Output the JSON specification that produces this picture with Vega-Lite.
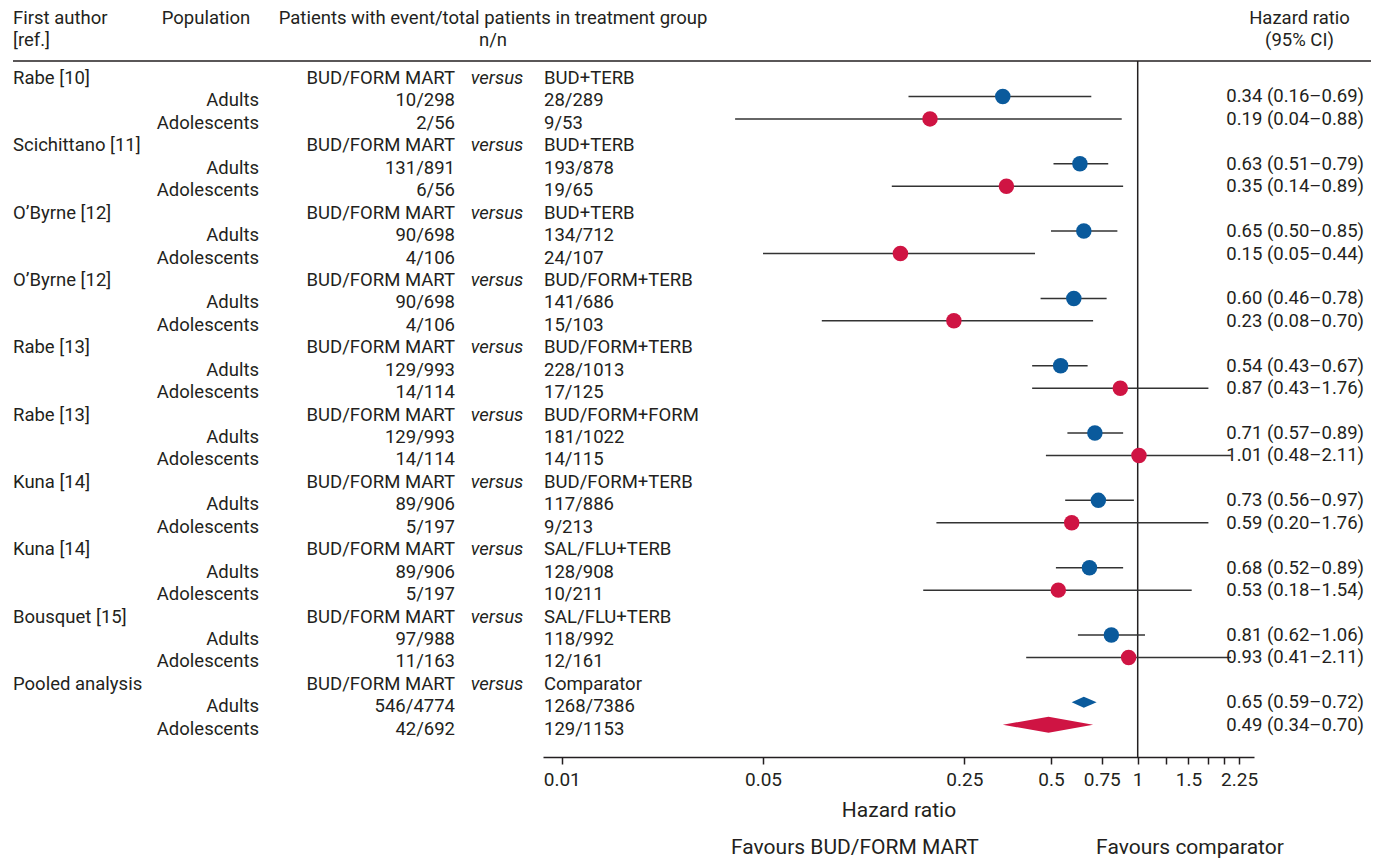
{
  "$schema": "https://vega.github.io/schema/vega-lite/v6.json",
  "padding": {"left": 12, "top": 0, "right": 0, "bottom": 0},
  "background": "white",
  "spacing": 0,
  "bounds": "flush",
  "config": {
    "view": {"stroke": null},
    "font": "Roboto",
    "text": {"font": "Roboto", "fontSize": 18.5, "color": "#231f20", "baseline": "middle"}
  },
  "datasets": {
    "rows": [
      {"row": 0, "author": "Rabe [10]", "treat": "BUD/FORM MART", "versus": "versus", "comp": "BUD+TERB"},
      {"row": 1, "population": "Adults", "treat": "10/298", "comp": "28/289", "hr": 0.34, "lo": 0.16, "hi": 0.69, "ci": "0.34 (0.16–0.69)", "pooled": false},
      {"row": 2, "population": "Adolescents", "treat": "2/56", "comp": "9/53", "hr": 0.19, "lo": 0.04, "hi": 0.88, "ci": "0.19 (0.04–0.88)", "pooled": false},
      {"row": 3, "author": "Scichittano [11]", "treat": "BUD/FORM MART", "versus": "versus", "comp": "BUD+TERB"},
      {"row": 4, "population": "Adults", "treat": "131/891", "comp": "193/878", "hr": 0.63, "lo": 0.51, "hi": 0.79, "ci": "0.63 (0.51–0.79)", "pooled": false},
      {"row": 5, "population": "Adolescents", "treat": "6/56", "comp": "19/65", "hr": 0.35, "lo": 0.14, "hi": 0.89, "ci": "0.35 (0.14–0.89)", "pooled": false},
      {"row": 6, "author": "O’Byrne [12]", "treat": "BUD/FORM MART", "versus": "versus", "comp": "BUD+TERB"},
      {"row": 7, "population": "Adults", "treat": "90/698", "comp": "134/712", "hr": 0.65, "lo": 0.50, "hi": 0.85, "ci": "0.65 (0.50–0.85)", "pooled": false},
      {"row": 8, "population": "Adolescents", "treat": "4/106", "comp": "24/107", "hr": 0.15, "lo": 0.05, "hi": 0.44, "ci": "0.15 (0.05–0.44)", "pooled": false},
      {"row": 9, "author": "O’Byrne [12]", "treat": "BUD/FORM MART", "versus": "versus", "comp": "BUD/FORM+TERB"},
      {"row": 10, "population": "Adults", "treat": "90/698", "comp": "141/686", "hr": 0.60, "lo": 0.46, "hi": 0.78, "ci": "0.60 (0.46–0.78)", "pooled": false},
      {"row": 11, "population": "Adolescents", "treat": "4/106", "comp": "15/103", "hr": 0.23, "lo": 0.08, "hi": 0.70, "ci": "0.23 (0.08–0.70)", "pooled": false},
      {"row": 12, "author": "Rabe [13]", "treat": "BUD/FORM MART", "versus": "versus", "comp": "BUD/FORM+TERB"},
      {"row": 13, "population": "Adults", "treat": "129/993", "comp": "228/1013", "hr": 0.54, "lo": 0.43, "hi": 0.67, "ci": "0.54 (0.43–0.67)", "pooled": false},
      {"row": 14, "population": "Adolescents", "treat": "14/114", "comp": "17/125", "hr": 0.87, "lo": 0.43, "hi": 1.76, "ci": "0.87 (0.43–1.76)", "pooled": false},
      {"row": 15, "author": "Rabe [13]", "treat": "BUD/FORM MART", "versus": "versus", "comp": "BUD/FORM+FORM"},
      {"row": 16, "population": "Adults", "treat": "129/993", "comp": "181/1022", "hr": 0.71, "lo": 0.57, "hi": 0.89, "ci": "0.71 (0.57–0.89)", "pooled": false},
      {"row": 17, "population": "Adolescents", "treat": "14/114", "comp": "14/115", "hr": 1.01, "lo": 0.48, "hi": 2.11, "ci": "1.01 (0.48–2.11)", "pooled": false},
      {"row": 18, "author": "Kuna [14]", "treat": "BUD/FORM MART", "versus": "versus", "comp": "BUD/FORM+TERB"},
      {"row": 19, "population": "Adults", "treat": "89/906", "comp": "117/886", "hr": 0.73, "lo": 0.56, "hi": 0.97, "ci": "0.73 (0.56–0.97)", "pooled": false},
      {"row": 20, "population": "Adolescents", "treat": "5/197", "comp": "9/213", "hr": 0.59, "lo": 0.20, "hi": 1.76, "ci": "0.59 (0.20–1.76)", "pooled": false},
      {"row": 21, "author": "Kuna [14]", "treat": "BUD/FORM MART", "versus": "versus", "comp": "SAL/FLU+TERB"},
      {"row": 22, "population": "Adults", "treat": "89/906", "comp": "128/908", "hr": 0.68, "lo": 0.52, "hi": 0.89, "ci": "0.68 (0.52–0.89)", "pooled": false},
      {"row": 23, "population": "Adolescents", "treat": "5/197", "comp": "10/211", "hr": 0.53, "lo": 0.18, "hi": 1.54, "ci": "0.53 (0.18–1.54)", "pooled": false},
      {"row": 24, "author": "Bousquet [15]", "treat": "BUD/FORM MART", "versus": "versus", "comp": "SAL/FLU+TERB"},
      {"row": 25, "population": "Adults", "treat": "97/988", "comp": "118/992", "hr": 0.81, "lo": 0.62, "hi": 1.06, "ci": "0.81 (0.62–1.06)", "pooled": false},
      {"row": 26, "population": "Adolescents", "treat": "11/163", "comp": "12/161", "hr": 0.93, "lo": 0.41, "hi": 2.11, "ci": "0.93 (0.41–2.11)", "pooled": false},
      {"row": 27, "author": "Pooled analysis", "treat": "BUD/FORM MART", "versus": "versus", "comp": "Comparator"},
      {"row": 28, "population": "Adults", "treat": "546/4774", "comp": "1268/7386", "hr": 0.65, "lo": 0.59, "hi": 0.72, "ci": "0.65 (0.59–0.72)", "pooled": true},
      {"row": 29, "population": "Adolescents", "treat": "42/692", "comp": "129/1153", "hr": 0.49, "lo": 0.34, "hi": 0.70, "ci": "0.49 (0.34–0.70)", "pooled": true}
    ],
    "headers": [
      {"col": "author", "row": -2.67, "label": "First author"},
      {"col": "author", "row": -1.69, "label": "[ref.]"},
      {"col": "population", "row": -2.67, "label": "Population"},
      {"col": "patients", "row": -2.67, "label": "Patients with event/total patients in treatment group"},
      {"col": "patients", "row": -1.69, "label": "n/n"},
      {"col": "hr", "row": -2.67, "label": "Hazard ratio"},
      {"col": "hr", "row": -1.69, "label": "(95% CI)"}
    ],
    "one": [{}],
    "favours": [
      {"label": "Favours BUD/FORM MART", "pos": 0.1043},
      {"label": "Favours comparator", "pos": 1.519}
    ]
  },
  "hconcat": [
    {
      "width": 140, "height": 757,
      "layer": [
        {"data": {"name": "rows"}, "transform": [{"filter": "datum.author != null"}],
         "mark": {"type": "text", "align": "left"},
         "encoding": {"x": {"value": 0}, "y": {"field": "row", "type": "quantitative", "scale": {"domain": [-3.476, 30.258], "reverse": true, "nice": false, "zero": false}, "axis": null}, "text": {"field": "author"}}},
        {"data": {"name": "headers"}, "transform": [{"filter": "datum.col == 'author'"}],
         "mark": {"type": "text", "align": "left"},
         "encoding": {"x": {"value": 0}, "y": {"field": "row", "type": "quantitative", "scale": {"domain": [-3.476, 30.258], "reverse": true, "nice": false, "zero": false}, "axis": null}, "text": {"field": "label"}}},
        {"data": {"name": "one"}, "mark": {"type": "rule", "color": "#231f20", "strokeWidth": 1.5},
         "encoding": {"y": {"datum": -0.76, "type": "quantitative", "scale": {"domain": [-3.476, 30.258], "reverse": true, "nice": false, "zero": false}, "axis": null}}}
      ]
    },
    {
      "width": 106, "height": 757,
      "layer": [
        {"data": {"name": "rows"}, "transform": [{"filter": "datum.population != null"}],
         "mark": {"type": "text", "align": "right"},
         "encoding": {"x": {"value": "width"}, "y": {"field": "row", "type": "quantitative", "scale": {"domain": [-3.476, 30.258], "reverse": true, "nice": false, "zero": false}, "axis": null}, "text": {"field": "population"}}},
        {"data": {"name": "headers"}, "transform": [{"filter": "datum.col == 'population'"}],
         "mark": {"type": "text", "align": "center"},
         "encoding": {"y": {"field": "row", "type": "quantitative", "scale": {"domain": [-3.476, 30.258], "reverse": true, "nice": false, "zero": false}, "axis": null}, "text": {"field": "label"}}},
        {"data": {"name": "one"}, "mark": {"type": "rule", "color": "#231f20", "strokeWidth": 1.5},
         "encoding": {"y": {"datum": -0.76, "type": "quantitative", "scale": {"domain": [-3.476, 30.258], "reverse": true, "nice": false, "zero": false}, "axis": null}}}
      ]
    },
    {
      "width": 196, "height": 757,
      "layer": [
        {"data": {"name": "rows"}, "transform": [{"filter": "datum.treat != null"}],
         "mark": {"type": "text", "align": "right"},
         "encoding": {"x": {"value": "width"}, "y": {"field": "row", "type": "quantitative", "scale": {"domain": [-3.476, 30.258], "reverse": true, "nice": false, "zero": false}, "axis": null}, "text": {"field": "treat"}}},
        {"data": {"name": "one"}, "mark": {"type": "rule", "color": "#231f20", "strokeWidth": 1.5},
         "encoding": {"y": {"datum": -0.76, "type": "quantitative", "scale": {"domain": [-3.476, 30.258], "reverse": true, "nice": false, "zero": false}, "axis": null}}}
      ]
    },
    {
      "width": 88, "height": 757,
      "layer": [
        {"data": {"name": "rows"}, "transform": [{"filter": "datum.versus != null"}],
         "mark": {"type": "text", "align": "center", "fontStyle": "italic", "dx": -2},
         "encoding": {"y": {"field": "row", "type": "quantitative", "scale": {"domain": [-3.476, 30.258], "reverse": true, "nice": false, "zero": false}, "axis": null}, "text": {"field": "versus"}}},
        {"data": {"name": "headers"}, "transform": [{"filter": "datum.col == 'patients'"}],
         "mark": {"type": "text", "align": "center", "dx": -6},
         "encoding": {"y": {"field": "row", "type": "quantitative", "scale": {"domain": [-3.476, 30.258], "reverse": true, "nice": false, "zero": false}, "axis": null}, "text": {"field": "label"}}},
        {"data": {"name": "one"}, "mark": {"type": "rule", "color": "#231f20", "strokeWidth": 1.5},
         "encoding": {"y": {"datum": -0.76, "type": "quantitative", "scale": {"domain": [-3.476, 30.258], "reverse": true, "nice": false, "zero": false}, "axis": null}}}
      ]
    },
    {
      "width": 711, "height": 757,
      "layer": [
        {"data": {"name": "one"}, "mark": {"type": "rule", "color": "#231f20", "strokeWidth": 1.5},
         "encoding": {"y": {"datum": -0.76, "type": "quantitative", "scale": {"domain": [-3.476, 30.258], "reverse": true, "nice": false, "zero": false}, "axis": null}}},
        {"data": {"name": "one"}, "mark": {"type": "rule", "color": "#231f20", "strokeWidth": 1.5},
         "encoding": {
           "x": {"datum": 1, "type": "quantitative", "scale": {"type": "log", "domain": [0.00861, 2.534], "nice": false},
             "axis": {"title": "Hazard ratio", "values": [0.01, 0.05, 0.25, 0.5, 0.75, 1, 1.25, 1.5, 1.75, 2, 2.25], "format": "~g", "labelExpr": "indexof([1.25, 1.75, 2], datum.value) >= 0 ? '' : datum.label", "labelOverlap": false, "labelFlush": false, "labelBound": false, "grid": false, "tickSize": 7, "tickWidth": 1.5, "tickColor": "#231f20", "domainColor": "#231f20", "domainWidth": 1.5, "labelFont": "Roboto", "labelFontSize": 19, "labelColor": "#231f20", "labelPadding": 6, "titleFont": "Roboto", "titleFontSize": 21, "titleFontWeight": "normal", "titleColor": "#231f20", "titlePadding": 10}},
           "y": {"datum": -0.76, "type": "quantitative", "scale": {"domain": [-3.476, 30.258], "reverse": true, "nice": false, "zero": false}, "axis": null},
           "y2": {"datum": 30.258}}},
        {"data": {"name": "rows"}, "transform": [{"filter": "datum.comp != null"}],
         "mark": {"type": "text", "align": "left", "dx": 1},
         "encoding": {"x": {"value": 0}, "y": {"field": "row", "type": "quantitative", "scale": {"domain": [-3.476, 30.258], "reverse": true, "nice": false, "zero": false}, "axis": null}, "text": {"field": "comp"}}},
        {"data": {"name": "rows"}, "transform": [{"filter": "datum.hr != null && !datum.pooled"}],
         "mark": {"type": "rule", "color": "#333333", "strokeWidth": 1.5, "yOffset": -4},
         "encoding": {
           "x": {"field": "lo", "type": "quantitative", "scale": {"type": "log", "domain": [0.00861, 2.534], "nice": false},
             "axis": {"title": "Hazard ratio", "values": [0.01, 0.05, 0.25, 0.5, 0.75, 1, 1.25, 1.5, 1.75, 2, 2.25], "format": "~g", "labelExpr": "indexof([1.25, 1.75, 2], datum.value) >= 0 ? '' : datum.label", "labelOverlap": false, "labelFlush": false, "labelBound": false, "grid": false, "tickSize": 7, "tickWidth": 1.5, "tickColor": "#231f20", "domainColor": "#231f20", "domainWidth": 1.5, "labelFont": "Roboto", "labelFontSize": 19, "labelColor": "#231f20", "labelPadding": 6, "titleFont": "Roboto", "titleFontSize": 21, "titleFontWeight": "normal", "titleColor": "#231f20", "titlePadding": 10}},
           "x2": {"field": "hi"},
           "y": {"field": "row", "type": "quantitative", "scale": {"domain": [-3.476, 30.258], "reverse": true, "nice": false, "zero": false}, "axis": null}}},
        {"data": {"name": "rows"}, "transform": [{"filter": "datum.hr != null && !datum.pooled"}],
         "mark": {"type": "circle", "size": 240, "opacity": 1, "yOffset": -4},
         "encoding": {
           "x": {"field": "hr", "type": "quantitative", "scale": {"type": "log", "domain": [0.00861, 2.534], "nice": false},
             "axis": {"title": "Hazard ratio", "values": [0.01, 0.05, 0.25, 0.5, 0.75, 1, 1.25, 1.5, 1.75, 2, 2.25], "format": "~g", "labelExpr": "indexof([1.25, 1.75, 2], datum.value) >= 0 ? '' : datum.label", "labelOverlap": false, "labelFlush": false, "labelBound": false, "grid": false, "tickSize": 7, "tickWidth": 1.5, "tickColor": "#231f20", "domainColor": "#231f20", "domainWidth": 1.5, "labelFont": "Roboto", "labelFontSize": 19, "labelColor": "#231f20", "labelPadding": 6, "titleFont": "Roboto", "titleFontSize": 21, "titleFontWeight": "normal", "titleColor": "#231f20", "titlePadding": 10}},
           "y": {"field": "row", "type": "quantitative", "scale": {"domain": [-3.476, 30.258], "reverse": true, "nice": false, "zero": false}, "axis": null},
           "color": {"field": "population", "type": "nominal", "scale": {"domain": ["Adults", "Adolescents"], "range": ["#0a5a9c", "#cf1443"]}, "legend": null}}},
        {"data": {"name": "rows"}, "transform": [
           {"filter": "datum.pooled == true"},
           {"fold": ["lo", "hr", "hi"], "as": ["vertex", "xv"]},
           {"calculate": "datum.vertex == 'hr' ? (datum.population == 'Adults' ? 0.245 : 0.356) : 0", "as": "dh"},
           {"calculate": "datum.row - datum.dh", "as": "ytop"},
           {"calculate": "datum.row + datum.dh", "as": "ybot"}],
         "mark": {"type": "area", "orient": "vertical", "opacity": 1, "yOffset": -4, "y2Offset": -4},
         "encoding": {
           "x": {"field": "xv", "type": "quantitative", "scale": {"type": "log", "domain": [0.00861, 2.534], "nice": false},
             "axis": {"title": "Hazard ratio", "values": [0.01, 0.05, 0.25, 0.5, 0.75, 1, 1.25, 1.5, 1.75, 2, 2.25], "format": "~g", "labelExpr": "indexof([1.25, 1.75, 2], datum.value) >= 0 ? '' : datum.label", "labelOverlap": false, "labelFlush": false, "labelBound": false, "grid": false, "tickSize": 7, "tickWidth": 1.5, "tickColor": "#231f20", "domainColor": "#231f20", "domainWidth": 1.5, "labelFont": "Roboto", "labelFontSize": 19, "labelColor": "#231f20", "labelPadding": 6, "titleFont": "Roboto", "titleFontSize": 21, "titleFontWeight": "normal", "titleColor": "#231f20", "titlePadding": 10}},
           "y": {"field": "ytop", "type": "quantitative", "scale": {"domain": [-3.476, 30.258], "reverse": true, "nice": false, "zero": false}, "axis": null},
           "y2": {"field": "ybot"},
           "color": {"field": "population", "type": "nominal", "scale": {"domain": ["Adults", "Adolescents"], "range": ["#0a5a9c", "#cf1443"]}, "legend": null}}},
        {"data": {"name": "favours"},
         "mark": {"type": "text", "align": "center", "fontSize": 21},
         "encoding": {
           "x": {"field": "pos", "type": "quantitative", "scale": {"type": "log", "domain": [0.00861, 2.534], "nice": false},
             "axis": {"title": "Hazard ratio", "values": [0.01, 0.05, 0.25, 0.5, 0.75, 1, 1.25, 1.5, 1.75, 2, 2.25], "format": "~g", "labelExpr": "indexof([1.25, 1.75, 2], datum.value) >= 0 ? '' : datum.label", "labelOverlap": false, "labelFlush": false, "labelBound": false, "grid": false, "tickSize": 7, "tickWidth": 1.5, "tickColor": "#231f20", "domainColor": "#231f20", "domainWidth": 1.5, "labelFont": "Roboto", "labelFontSize": 19, "labelColor": "#231f20", "labelPadding": 6, "titleFont": "Roboto", "titleFontSize": 21, "titleFontWeight": "normal", "titleColor": "#231f20", "titlePadding": 10}},
           "y": {"datum": 34.3, "type": "quantitative", "scale": {"domain": [-3.476, 30.258], "reverse": true, "nice": false, "zero": false}, "axis": null},
           "text": {"field": "label"}}}
      ]
    },
    {
      "width": 117, "height": 757,
      "layer": [
        {"data": {"name": "rows"}, "transform": [{"filter": "datum.ci != null"}],
         "mark": {"type": "text", "align": "right", "dx": -7, "dy": -4},
         "encoding": {"x": {"value": "width"}, "y": {"field": "row", "type": "quantitative", "scale": {"domain": [-3.476, 30.258], "reverse": true, "nice": false, "zero": false}, "axis": null}, "text": {"field": "ci"}}},
        {"data": {"name": "headers"}, "transform": [{"filter": "datum.col == 'hr'"}],
         "mark": {"type": "text", "align": "center", "dx": -13},
         "encoding": {"y": {"field": "row", "type": "quantitative", "scale": {"domain": [-3.476, 30.258], "reverse": true, "nice": false, "zero": false}, "axis": null}, "text": {"field": "label"}}},
        {"data": {"name": "one"}, "mark": {"type": "rule", "color": "#231f20", "strokeWidth": 1.5},
         "encoding": {"y": {"datum": -0.76, "type": "quantitative", "scale": {"domain": [-3.476, 30.258], "reverse": true, "nice": false, "zero": false}, "axis": null}}}
      ]
    }
  ]
}
